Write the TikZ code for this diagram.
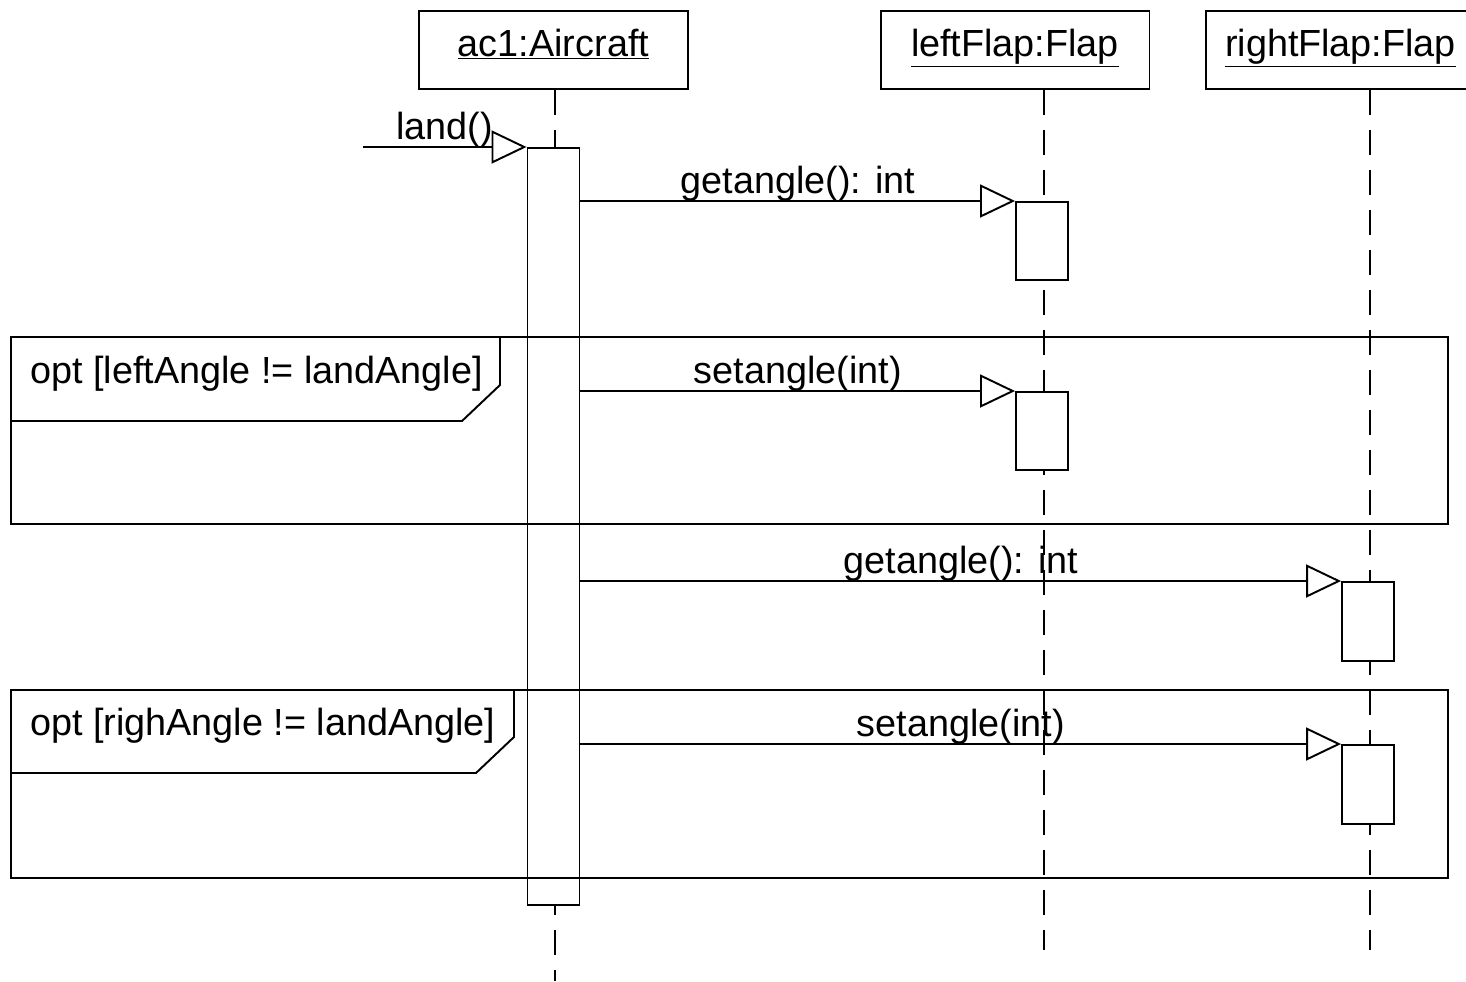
\documentclass[tikz,border=0pt]{standalone}
\usepackage{fontspec}
\setmainfont{Liberation Sans}
\usetikzlibrary{arrows.meta}
\begin{document}
\begin{tikzpicture}[x=0.02cm,y=-0.02cm]
		\tikzstyle{obj}=[rectangle,draw=black,line width=1.1pt,minimum width=5.38cm,minimum height=1.56cm,text height=0.5cm,text depth=0.26cm,font=\fontsize{21.5}{26}\selectfont]
		\tikzstyle{act}=[rectangle,draw=black,fill=white,line width=1.1pt,minimum width=1.04cm,anchor=north,inner sep=0pt]
		\tikzstyle{life}=[line width=1.1pt,dash pattern=on 0.5cm off 0.3cm]
		\tikzstyle{msg}=[line width=1.1pt,-{Triangle[open,length=0.7cm,width=0.66cm]}]
		\tikzstyle{lbl}=[font=\fontsize{21.5}{26}\selectfont,inner sep=0pt]
		\tikzstyle{frame}=[line width=1.1pt]
		\useasboundingbox (0,0) rectangle (1466,981);

		\node[obj] (ac1) at (553.5,50) {\underline{ac1:Aircraft}};
		\node[obj] (left) at (1015,50) {\underline{leftFlap:Flap}};
		\node[obj] (right) at (1340.5,50) {\underline{rightFlap:Flap}};

		\coordinate (ac1end) at (555,981);
		\coordinate (leftend) at (1044,950);
		\coordinate (rightend) at (1370,950);
		\coordinate (land0) at (363,147);

		\draw[life] (ac1.south -| ac1end) -- (ac1end);
		\draw[life] (left.south -| leftend) -- (leftend);
		\draw[life] (right.south -| rightend) -- (rightend);

		\node[act,minimum height=15.14cm] (a1) at (553.5,147) {};
		\node[act,minimum height=1.56cm] (l1) at (1042,201) {};
		\node[act,minimum height=1.56cm] (l2) at (1042,391) {};
		\node[act,minimum height=1.58cm] (r1) at (1368,581) {};
		\node[act,minimum height=1.58cm] (r2) at (1368,744) {};

		% opt frames
		\draw[frame] (11,337) rectangle (1448,524);
		\draw[frame] (11,421) -- (462,421) -- (500,385) -- (500,337);
		\node[lbl,anchor=base west] (opt1) at (30,383) {opt [leftAngle != landAngle]};
		\draw[frame] (11,690) rectangle (1448,878);
		\draw[frame] (11,773) -- (476,773) -- (514,737) -- (514,690);
		\node[lbl,anchor=base west] (opt2) at (30,735) {opt [righAngle != landAngle]};

		\path[msg]
		(land0) edge node[lbl,midway,anchor=base,yshift=4.5pt] {land()} (a1.north west)
		(a1.east |- l1.north west) edge node[lbl,midway,anchor=base,yshift=4.5pt] {getangle(): int} (l1.north west)
		(a1.east |- l2.north west) edge node[lbl,midway,anchor=base,yshift=4.5pt] {setangle(int)} (l2.north west)
		(a1.east |- r1.north west) edge node[lbl,midway,anchor=base,yshift=4.5pt] {getangle(): int} (r1.north west)
		(a1.east |- r2.north west) edge node[lbl,midway,anchor=base,yshift=4.5pt] {setangle(int)} (r2.north west)
		;
\end{tikzpicture}
\end{document}
